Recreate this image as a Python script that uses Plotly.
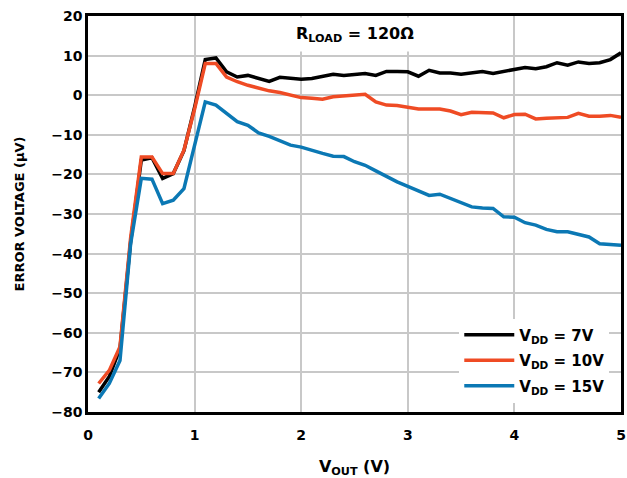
import plotly.graph_objects as go

vout = [0.1, 0.2, 0.3, 0.4, 0.5, 0.6, 0.7, 0.8, 0.9, 1.0,
        1.1, 1.2, 1.3, 1.4, 1.5, 1.6, 1.7, 1.8, 1.9, 2.0,
        2.1, 2.2, 2.3, 2.4, 2.5, 2.6, 2.7, 2.8, 2.9, 3.0,
        3.1, 3.2, 3.3, 3.4, 3.5, 3.6, 3.7, 3.8, 3.9, 4.0,
        4.1, 4.2, 4.3, 4.4, 4.5, 4.6, 4.7, 4.8, 4.9, 5.0]

err_7v = [-75, -71, -64, -37, -16.4, -15.8, -21, -19.8, -14, -3,
          9, 9.4, 5.9, 4.6, 5.0, 4.2, 3.5, 4.5, 4.2, 4.0,
          4.2, 4.7, 5.3, 5.0, 5.3, 5.5, 5.0, 6.0, 6.0, 5.9,
          4.8, 6.3, 5.6, 5.6, 5.3, 5.6, 6.0, 5.5, 6.0, 6.5,
          7.0, 6.7, 7.2, 8.2, 7.6, 8.4, 8.0, 8.2, 9.0, 10.7]

err_10v = [-72.8, -69.5, -63.5, -36, -15.6, -15.6, -19.8, -19.8, -13.9, -3.5,
           8, 8, 4.6, 3.4, 2.5, 1.7, 1.1, 0.7, 0, -0.6,
           -0.8, -1.0, -0.4, -0.2, 0.1, 0.25, -1.7, -2.5, -2.6, -3.0,
           -3.5, -3.5, -3.5, -4.0, -4.9, -4.3, -4.5, -4.5, -5.7, -4.9,
           -4.8, -6.0, -5.8, -5.6, -5.6, -4.6, -5.3, -5.3, -5.1, -5.6]

err_15v = [-76.6, -72.8, -67, -37.5, -21, -21.2, -27.4, -26.5, -23.6, -13,
           -1.7, -2.5, -4.6, -6.7, -7.6, -9.5, -10.4, -11.6, -12.6, -13.1,
           -14, -14.7, -15.4, -15.5, -16.8, -17.7, -19.1, -20.6, -21.9, -23,
           -24.2, -25.3, -25, -26.1, -27.2, -28.2, -28.5, -28.6, -30.7, -30.8,
           -32.2, -32.8, -33.9, -34.5, -34.5, -35.1, -35.8, -37.5, -37.6, -37.9]

names = ["V<sub>DD</sub> = 7V", "V<sub>DD</sub> = 10V", "V<sub>DD</sub> = 15V"]
colors = ["#000000", "#ef4b24", "#0b78b4"]
series = [err_7v, err_10v, err_15v]

x_ticks = [0, 1, 2, 3, 4, 5]
y_ticks = [20, 10, 0, -10, -20, -30, -40, -50, -60, -70, -80]

FONT = "DejaVu Sans, Liberation Sans, sans-serif"

fig = go.Figure()
for i, (name, col, ys) in enumerate(zip(names, colors, series)):
    fig.add_trace(go.Scatter(x=vout, y=ys, mode="lines", name=name,
                             legendgroup=f"g{i}",
                             line=dict(color=col, width=3.5)))

fig.update_layout(
    width=627, height=478,
    margin=dict(l=88, r=6, t=16, b=66),
    plot_bgcolor="white", paper_bgcolor="white",
    font=dict(family=FONT, color="black"),
    showlegend=True,
    legend=dict(x=0.978, y=0.236, xanchor="right", yanchor="top",
                bgcolor="white", borderwidth=0,
                font=dict(family=FONT, size=15, weight="bold", color="black"),
                itemwidth=50, tracegroupgap=3),
    annotations=[dict(text="<b>R<sub>LOAD</sub> = 120Ω</b>", x=0.5, y=0.953,
                      xref="paper", yref="paper", xanchor="center", yanchor="middle",
                      showarrow=False,
                      font=dict(family=FONT, size=16, color="black"),
                      bgcolor="white", borderpad=6)],
)
fig.update_xaxes(range=[0, 5], tickvals=x_ticks, showgrid=True,
                 gridcolor="#c8c8c8", gridwidth=1.5,
                 showline=True, linecolor="black", linewidth=2.5, mirror=True,
                 ticks="", zeroline=False, automargin=False,
                 ticklabelstandoff=8,
                 tickfont=dict(family=FONT, size=14, weight="bold"),
                 title=dict(text="<b>V<sub>OUT</sub> (V)</b>",
                            font=dict(family=FONT, size=16), standoff=22))
fig.update_yaxes(range=[-80, 20], tickvals=y_ticks, showgrid=True,
                 gridcolor="#c8c8c8", gridwidth=1.5,
                 showline=True, linecolor="black", linewidth=2.5, mirror=True,
                 ticks="", zeroline=False, automargin=False,
                 tickfont=dict(family=FONT, size=14, weight="bold"),
                 title=dict(text="<b>ERROR VOLTAGE (µV)</b>",
                            font=dict(family=FONT, size=13), standoff=24))

fig.write_html("out.html")
